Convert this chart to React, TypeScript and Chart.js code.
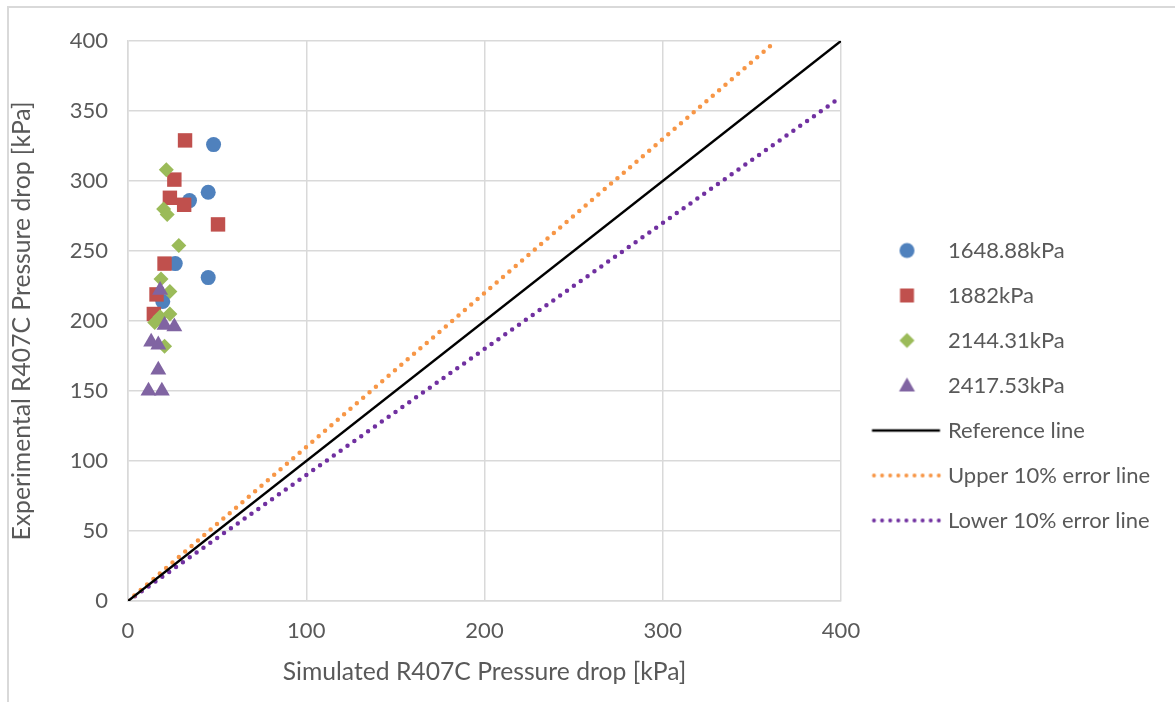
import React, { useEffect, useRef } from 'react';
import { Chart, registerables } from 'chart.js';

Chart.register(...registerables);

// ---- Data ----
const seriesNames = ['1648.88kPa', '1882kPa', '2144.31kPa', '2417.53kPa'];
const lineNames = ['Reference line', 'Upper 10% error line', 'Lower 10% error line'];

const s1X = [48, 45, 34.5, 26.5, 45, 19.5];
const s1Y = [326, 292, 286, 241, 231, 214];

const s2X = [32, 26, 23.5, 31.5, 50.5, 20.5, 16, 14.5];
const s2Y = [329, 301, 288, 283, 269, 241, 219, 205];

const s3X = [21.5, 20, 22, 28.5, 18.5, 23.5, 18, 23.5, 15, 20.5];
const s3Y = [308, 280, 276, 254, 230, 221, 203, 205, 199, 182];

const s4X = [18, 20.5, 26, 13, 17, 17, 11.5, 19];
const s4Y = [222, 197, 196, 185, 183, 165, 150, 150];

const refX = [0, 400];
const refY = [0, 400];
const upperX = [0, 363.6];
const upperY = [0, 400];
const lowerX = [0, 400];
const lowerY = [0, 360];

const xTickStep = 100;
const yTickStep = 50;
const axisMin = 0;
const axisMax = 400;

const xTitle = 'Simulated R407C Pressure drop [kPa]';
const yTitle = 'Experimental R407C Pressure drop [kPa]';

// ---- Styles ----
const BLUE = '#4F81BD';
const RED = '#C0504D';
const GREEN = '#9BBB59';
const PURPLE = '#8064A2';
const ORANGE = '#F79646';
const DPURPLE = '#7030A0';
const TEXT = '#595959';
const GRID = '#d9d9d9';
const FONT = 'Lato, "Open Sans", sans-serif';

const LEGEND_WIDTH = 310;
const LEG_IMG_W = 90;
const LEG_MARK_CX = 51.5;
const LEG_LINE_X0 = 16.5;
const LEG_LINE_X1 = 84.5;

const zip = (xs: number[], ys: number[]) => xs.map((x, i) => ({ x, y: ys[i] }));

function markerImage(shape: string, color: string): HTMLCanvasElement {
  const c = document.createElement('canvas');
  c.width = LEG_IMG_W;
  c.height = 20;
  const g = c.getContext('2d')!;
  g.fillStyle = color;
  const m = LEG_MARK_CX;
  const n = 10;
  g.beginPath();
  if (shape === 'circle') {
    g.arc(m, n, 7.5, 0, Math.PI * 2);
  } else if (shape === 'rect') {
    g.rect(m - 7, n - 7, 14, 14);
  } else if (shape === 'diamond') {
    g.moveTo(m, n - 7.5);
    g.lineTo(m + 7.5, n);
    g.lineTo(m, n + 7.5);
    g.lineTo(m - 7.5, n);
    g.closePath();
  } else {
    g.moveTo(m, n - 8);
    g.lineTo(m + 8, n + 6);
    g.lineTo(m - 8, n + 6);
    g.closePath();
  }
  g.fill();
  return c;
}

function lineImage(color: string, dotted: boolean): HTMLCanvasElement {
  const c = document.createElement('canvas');
  c.width = LEG_IMG_W;
  c.height = 6;
  const g = c.getContext('2d')!;
  g.strokeStyle = color;
  g.beginPath();
  if (dotted) {
    g.lineWidth = 4;
    g.lineCap = 'round';
    g.setLineDash([0, 8.1]);
    g.moveTo(LEG_LINE_X0 + 2, 3);
    g.lineTo(LEG_LINE_X1, 3);
  } else {
    g.lineWidth = 2.5;
    g.moveTo(LEG_LINE_X0, 3);
    g.lineTo(LEG_LINE_X1, 3);
  }
  g.stroke();
  return c;
}

// Let the right-hand legend be wider than Chart.js' default cap (a quarter of the width).
const legendWidthPlugin = {
  id: 'legendWidth',
  beforeLayout(chart: any) {
    const lg = chart.legend;
    if (lg && !lg.__widthPatched) {
      const orig = lg.fit.bind(lg);
      lg.fit = function () {
        orig();
        this.width = LEGEND_WIDTH;
      };
      lg.__widthPatched = true;
    }
  },
};

export default function App() {
  const ref = useRef<HTMLCanvasElement | null>(null);

  useEffect(() => {
    if (!ref.current) return;
    const legendImages = [
      markerImage('circle', BLUE),
      markerImage('rect', RED),
      markerImage('diamond', GREEN),
      markerImage('triangle', PURPLE),
      lineImage('#000000', false),
      lineImage(ORANGE, true),
      lineImage(DPURPLE, true),
    ];

    const chart = new Chart(ref.current, {
      type: 'scatter',
      plugins: [legendWidthPlugin],
      data: {
        datasets: [
          {
            label: seriesNames[0],
            data: zip(s1X, s1Y),
            pointStyle: 'circle',
            pointRadius: 7.5,
            backgroundColor: BLUE,
            borderColor: BLUE,
            borderWidth: 0,
            order: 3,
          },
          {
            label: seriesNames[1],
            data: zip(s2X, s2Y),
            pointStyle: 'rect',
            pointRadius: 10.2,
            backgroundColor: RED,
            borderColor: RED,
            borderWidth: 0,
            order: 2,
          },
          {
            label: seriesNames[2],
            data: zip(s3X, s3Y),
            pointStyle: 'rectRot',
            pointRadius: 7.5,
            backgroundColor: GREEN,
            borderColor: GREEN,
            borderWidth: 0,
            order: 1,
          },
          {
            label: seriesNames[3],
            data: zip(s4X, s4Y),
            pointStyle: 'triangle',
            pointRadius: 9.2,
            backgroundColor: PURPLE,
            borderColor: PURPLE,
            borderWidth: 0,
            order: 0,
          },
          {
            label: lineNames[0],
            data: zip(refX, refY),
            showLine: true,
            pointRadius: 0,
            borderColor: '#000000',
            backgroundColor: '#000000',
            borderWidth: 2.5,
            order: 4,
          },
          {
            label: lineNames[1],
            data: zip(upperX, upperY),
            showLine: true,
            pointRadius: 0,
            borderColor: ORANGE,
            backgroundColor: ORANGE,
            borderWidth: 4.5,
            borderDash: [0, 8.4],
            borderCapStyle: 'round',
            order: 5,
          },
          {
            label: lineNames[2],
            data: zip(lowerX, lowerY),
            showLine: true,
            pointRadius: 0,
            borderColor: DPURPLE,
            backgroundColor: DPURPLE,
            borderWidth: 4.5,
            borderDash: [0, 8.4],
            borderCapStyle: 'round',
            order: 6,
          },
        ] as any,
      },
      options: {
        animation: false,
        responsive: false,
        events: [],
        layout: { padding: { top: 41, right: 1175 - 841 - LEGEND_WIDTH, bottom: 0, left: 0 } },
        plugins: {
          tooltip: { enabled: false },
          legend: {
            position: 'right',
            title: { display: true, text: '', font: { size: 10 }, padding: { top: 16, bottom: 0 } },
            labels: {
              usePointStyle: true,
              pointStyleWidth: 73,
              padding: 23,
              color: TEXT,
              font: { family: FONT, size: 22 },
              sort: (a: any, b: any) => a.datasetIndex - b.datasetIndex,
              generateLabels: (ch: any) => {
                const items = (Chart as any).defaults.plugins.legend.labels.generateLabels(ch);
                return items.map((it: any) => ({
                  ...it,
                  pointStyle: legendImages[it.datasetIndex],
                  fontColor: TEXT,
                  lineDash: [],
                }));
              },
            },
          },
        },
        scales: {
          x: {
            type: 'linear',
            min: axisMin,
            max: axisMax,
            ticks: { stepSize: xTickStep, color: TEXT, font: { family: FONT, size: 22 }, padding: 17 },
            grid: { color: GRID, lineWidth: 1.5, drawTicks: false },
            border: { color: GRID, width: 1.5 },
            title: {
              display: true,
              text: xTitle,
              color: TEXT,
              font: { family: FONT, size: 24.7 },
              padding: { top: 15, bottom: 15 },
            },
            afterFit: (s: any) => {
              s.height = 101;
            },
          },
          y: {
            type: 'linear',
            min: axisMin,
            max: axisMax,
            ticks: { stepSize: yTickStep, color: TEXT, font: { family: FONT, size: 22 }, padding: 20 },
            grid: { color: GRID, lineWidth: 1.5, drawTicks: false },
            border: { color: GRID, width: 1.5 },
            title: {
              display: true,
              text: yTitle,
              color: TEXT,
              font: { family: FONT, size: 24.7 },
              padding: { top: 7, bottom: 7 },
            },
            afterFit: (s: any) => {
              s.width = 128;
            },
          },
        },
      } as any,
    });
    return () => chart.destroy();
  }, []);

  return (
    <div style={{ position: 'absolute', left: 0, top: 0, width: 1175, height: 702, background: '#fff', overflow: 'hidden' }}>
      <div
        style={{
          position: 'absolute',
          left: 7,
          top: 6,
          width: 1200,
          height: 720,
          borderLeft: '2px solid #d9d9d9',
          borderTop: '2px solid #d9d9d9',
          boxSizing: 'border-box',
        }}
      />
      <canvas ref={ref} width={1175} height={702} style={{ position: 'absolute', left: 0, top: 0 }} />
    </div>
  );
}
